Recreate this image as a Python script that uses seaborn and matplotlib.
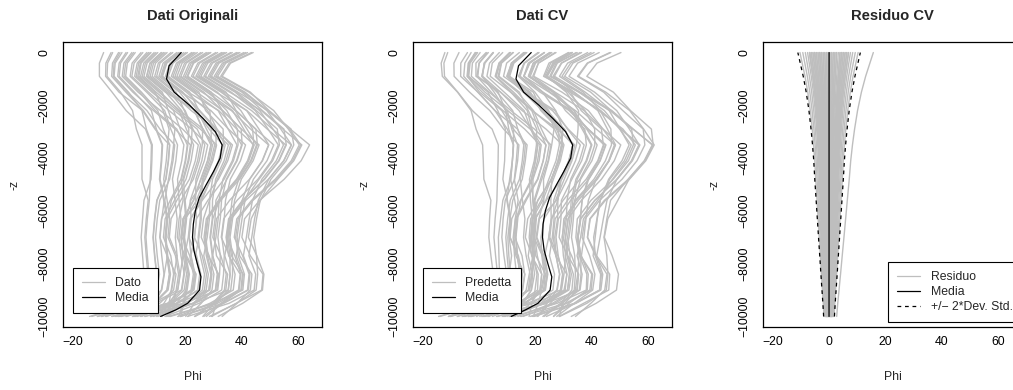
import numpy as np
import pandas as pd
import matplotlib
matplotlib.use("Agg")
import matplotlib.pyplot as plt
from matplotlib.lines import Line2D
import seaborn as sns

# Depth levels (m) at which every profile is sampled
depth = [0, -400, -900, -1500, -2200, -2900, -3500, -4100, -4800,
         -5600, -6300, -7000, -7700, -8400, -9000, -9500, -10000]

# Observed Phi profiles, one row per profile
phi_dati = [
    [-9.0, -10.5, -10.5, -6.0, -1.0, 5.85, 7.95, 7.8, 7.5, 7.2, 6.5, 6.0, 6.5, 7.1, 6.15, 2.0, -14.0],
    [-6.35, -8.2, -8.3, -3.55, 4.8, 9.2, 14.35, 13.9, 13.0, 9.85, 9.05, 8.5, 9.05, 9.75, 8.8, 4.5, -11.15],
    [-5.8, -7.6, -7.8, -3.0, 1.25, 2.6, 4.6, 4.6, 4.6, 6.8, 6.1, 5.6, 6.1, 6.7, 5.75, 1.6, -9.7],
    [-3.7, -5.85, -6.15, -1.1, 5.1, 9.5, 11.7, 11.4, 10.8, 12.3, 13.4, 12.8, 13.4, 14.3, 13.4, 8.8, -6.15],
    [-3.2, -5.3, -5.6, -0.5, 6.35, 10.95, 16.2, 15.6, 14.4, 10.9, 10.0, 9.4, 10.0, 10.8, 9.85, 3.4, -13.2],
    [-2.5, -4.9, -5.3, -0.2, 4.6, 6.15, 8.25, 8.1, 7.8, 5.3, 4.8, 4.3, 4.8, 5.3, 4.3, 2.3, -4.3],
    [-1.05, -3.5, -4.0, 1.35, 8.7, 16.35, 21.8, 20.9, 19.1, 15.0, 13.7, 13.1, 13.7, 14.7, 13.85, 9.1, -0.8],
    [-0.5, -3.0, -3.5, 1.9, 7.95, 9.7, 11.9, 11.6, 11.0, 12.5, 11.6, 11.0, 11.6, 12.4, 11.45, 7.0, -8.3],
    [1.6, -1.2, -1.8, 3.8, 9.3, 16.95, 19.45, 18.7, 17.2, 17.75, 18.4, 17.7, 18.4, 19.6, 18.75, 13.7, 4.5],
    [2.2, -0.6, -1.2, 4.4, 10.2, 12.15, 14.45, 14.0, 13.1, 9.95, 9.15, 8.6, 9.15, 9.85, 8.9, 4.6, -8.0],
    [1.0, -1.8, -2.4, 3.2, 11.15, 19.0, 24.55, 23.5, 21.4, 16.95, 13.5, 12.9, 13.5, 16.65, 15.8, 10.9, -3.35],
    [4.25, 1.1, 0.4, 6.25, 12.65, 14.8, 17.2, 16.6, 15.4, 16.3, 17.05, 16.4, 17.05, 16.0, 15.15, 12.4, 7.55],
    [4.9, 1.8, 1.0, 6.9, 14.2, 22.25, 27.9, 26.7, 24.3, 21.7, 22.0, 21.3, 22.0, 23.4, 22.65, 15.3, 1.75],
    [6.9, 3.45, 2.55, 8.7, 15.8, 18.15, 20.65, 19.9, 18.4, 14.6, 11.5, 10.9, 13.5, 14.4, 13.5, 8.9, -3.7],
    [7.5, 4.0, 3.1, 9.3, 12.05, 14.2, 13.65, 13.2, 12.3, 13.5, 14.4, 13.8, 16.45, 17.55, 16.7, 15.8, 11.65],
    [6.3, 2.9, 2.0, 8.1, 16.1, 24.15, 26.85, 25.8, 23.7, 23.6, 23.9, 23.2, 21.9, 23.2, 22.4, 15.2, 1.3],
    [7.8, 4.3, 3.5, 9.6, 17.05, 25.3, 31.05, 29.7, 27.0, 21.9, 20.2, 19.5, 20.2, 19.4, 18.55, 9.5, -9.8],
    [9.55, 5.8, 4.7, 11.15, 17.75, 20.3, 22.9, 22.0, 20.2, 16.1, 12.8, 12.2, 14.8, 15.8, 14.95, 14.2, 14.4],
    [10.2, 6.4, 5.3, 11.8, 13.9, 16.25, 15.8, 15.2, 14.0, 12.7, 13.6, 13.0, 13.6, 12.5, 11.6, 9.0, 1.45],
    [12.2, 8.1, 6.9, 13.6, 23.55, 29.35, 35.2, 33.7, 30.7, 29.6, 29.5, 28.7, 29.5, 29.1, 28.35, 22.7, 10.2],
    [12.8, 8.7, 7.5, 14.3, 19.9, 22.65, 25.35, 24.3, 22.2, 19.9, 20.4, 19.7, 20.4, 23.8, 23.05, 13.7, -4.9],
    [11.6, 7.5, 6.3, 13.0, 18.65, 21.2, 20.85, 20.1, 18.6, 19.15, 17.75, 17.1, 19.8, 21.0, 20.15, 19.1, 17.65],
    [13.5, 9.4, 8.2, 14.9, 22.05, 30.7, 36.65, 35.0, 31.7, 25.95, 21.9, 21.2, 23.95, 25.45, 24.7, 17.2, 4.0],
    [14.85, 10.4, 9.1, 16.05, 23.25, 26.2, 29.0, 27.8, 25.4, 22.8, 19.1, 18.4, 19.1, 18.15, 17.3, 8.4, -11.25],
    [15.5, 11.0, 9.8, 16.7, 19.6, 22.35, 22.1, 21.2, 19.4, 19.6, 20.1, 19.4, 20.1, 21.4, 20.6, 19.4, 18.3],
    [17.5, 12.75, 11.25, 18.5, 29.05, 35.25, 41.3, 39.5, 35.9, 34.2, 33.75, 32.9, 33.75, 33.5, 32.85, 24.9, 12.75],
    [18.2, 13.4, 11.9, 19.1, 24.3, 27.45, 30.35, 29.0, 26.3, 25.55, 25.6, 24.8, 23.55, 25.05, 24.3, 16.8, -1.1],
    [16.9, 12.1, 10.6, 17.9, 23.15, 26.1, 25.95, 24.9, 22.8, 18.35, 14.9, 14.3, 16.95, 18.05, 17.2, 14.3, 9.8],
    [17.9, 13.1, 11.6, 18.8, 25.1, 31.1, 34.1, 32.6, 29.6, 28.5, 26.4, 25.6, 28.4, 30.1, 29.4, 25.6, 20.85],
    [20.15, 15.1, 13.4, 20.95, 31.8, 38.2, 44.35, 42.4, 38.5, 32.1, 27.8, 27.0, 27.8, 29.4, 28.65, 17.0, -5.95],
    [20.7, 15.6, 13.9, 21.5, 24.8, 30.8, 30.85, 29.5, 26.8, 23.9, 20.0, 19.3, 20.0, 23.4, 22.65, 19.3, 13.5],
    [22.8, 17.4, 15.6, 23.4, 28.65, 29.15, 29.1, 27.9, 25.5, 22.9, 19.2, 18.5, 19.2, 20.4, 19.55, 14.5, 2.95],
    [23.4, 18.0, 16.3, 24.0, 33.25, 39.85, 46.1, 44.0, 39.8, 37.4, 36.7, 35.8, 36.7, 36.7, 36.05, 29.8, 23.4],
    [22.2, 16.8, 15.0, 22.8, 31.6, 35.15, 38.25, 36.6, 33.3, 31.9, 31.6, 30.8, 29.6, 31.3, 30.6, 22.8, 5.6],
    [24.2, 18.8, 17.0, 24.8, 27.15, 33.35, 33.5, 32.0, 29.0, 25.75, 21.7, 21.0, 19.7, 21.0, 20.2, 17.0, 13.2],
    [25.45, 19.7, 17.8, 25.85, 36.3, 43.1, 49.45, 47.2, 42.7, 35.65, 31.0, 30.2, 31.0, 34.95, 34.3, 30.2, 26.15],
    [26.1, 20.3, 18.4, 26.5, 32.95, 36.7, 39.9, 38.1, 34.5, 32.8, 32.35, 31.5, 32.35, 32.1, 31.45, 19.5, -2.75],
    [28.1, 22.05, 19.95, 28.3, 34.65, 38.4, 38.65, 37.0, 33.7, 27.95, 23.9, 23.2, 25.95, 27.45, 26.7, 23.2, 20.1],
    [28.8, 22.7, 20.6, 29.0, 37.85, 44.85, 51.3, 48.9, 44.1, 41.1, 40.05, 39.1, 38.0, 40.2, 39.65, 33.1, 27.4],
    [27.4, 21.4, 19.3, 27.6, 36.7, 40.65, 43.95, 42.0, 38.1, 31.7, 27.4, 26.6, 27.4, 29.0, 28.25, 20.6, 7.75],
    [29.0, 22.9, 20.8, 29.1, 33.15, 39.75, 40.1, 38.3, 34.7, 30.8, 30.5, 29.7, 32.55, 34.45, 33.8, 29.7, 23.3],
    [30.75, 24.4, 22.1, 30.75, 41.8, 49.0, 55.55, 53.0, 47.9, 40.2, 35.3, 34.4, 35.3, 39.4, 38.8, 30.4, 14.6],
    [31.4, 25.0, 22.7, 31.3, 37.65, 41.8, 45.2, 43.1, 38.9, 36.5, 35.8, 34.9, 35.8, 35.8, 35.15, 30.9, 29.55],
    [33.4, 26.7, 24.3, 33.2, 39.65, 43.8, 44.25, 42.3, 38.4, 32.0, 29.7, 28.9, 29.7, 31.4, 30.7, 22.9, 5.7],
    [34.0, 27.3, 24.9, 33.8, 43.45, 50.85, 57.5, 54.8, 49.4, 41.4, 36.3, 35.4, 36.3, 40.5, 39.95, 31.4, 18.3],
    [32.8, 26.1, 23.7, 32.6, 41.7, 46.05, 49.55, 47.3, 42.8, 40.1, 39.2, 38.3, 39.2, 43.55, 43.0, 38.3, 33.0],
    [34.6, 27.9, 25.5, 34.4, 37.95, 44.95, 45.5, 43.4, 39.2, 32.5, 28.0, 27.2, 28.0, 31.8, 31.15, 23.2, 8.7],
    [36.05, 29.0, 26.5, 35.65, 46.9, 54.5, 61.25, 58.4, 52.7, 46.5, 45.2, 44.2, 45.2, 45.6, 45.05, 38.2, 28.5],
    [36.6, 29.6, 27.1, 36.2, 44.75, 49.3, 52.9, 50.5, 45.7, 38.3, 33.55, 32.7, 35.6, 37.6, 36.95, 28.7, 17.25],
    [38.7, 31.35, 28.65, 38.1, 46.3, 51.05, 54.75, 52.2, 47.1, 43.75, 42.6, 41.6, 40.55, 42.85, 42.3, 33.6, 23.2],
    [39.3, 31.9, 29.2, 38.6, 49.35, 57.15, 64.0, 61.0, 55.0, 46.3, 40.95, 40.0, 43.0, 47.5, 47.0, 38.0, 29.2],
    [38.1, 30.8, 28.1, 37.6, 45.15, 52.55, 53.3, 50.9, 46.1, 40.9, 36.0, 35.1, 33.95, 35.85, 35.2, 23.1, 1.2],
    [41.35, 33.7, 30.8, 40.55, 48.85, 53.8, 57.6, 54.9, 49.5, 45.8, 44.5, 43.5, 42.5, 44.9, 44.35, 35.5, 20.75],
    [40.7, 33.1, 30.2, 40.0, 47.3, 54.9, 55.75, 53.2, 48.1, 40.4, 35.5, 34.6, 37.5, 39.6, 39.0, 32.6, 26.55],
    [42.0, 34.3, 31.4, 41.1, 49.15, 56.95, 60.85, 58.0, 52.3, 43.95, 38.7, 37.8, 38.7, 40.9, 40.35, 29.8, 14.0],
    [44.0, 36.0, 33.0, 43.0, 49.65, 57.45, 58.4, 55.7, 50.3, 46.6, 43.3, 42.3, 45.3, 47.8, 47.3, 40.3, 31.6],
    [43.4, 35.5, 32.5, 42.5, 51.3, 56.45, 60.35, 57.5, 51.8, 43.45, 38.2, 37.3, 40.25, 42.55, 42.0, 33.3, 18.2],
    [11.4, 7.4, 6.2, 12.9, 23.65, 28.4, 33.2, 31.7, 28.9, 25.4, 19.5, 18.8, 21.5, 22.8, 22.0, 14.8, -3.8],
    [19.4, 14.5, 12.9, 20.3, 27.85, 31.2, 36.0, 34.4, 31.3, 28.6, 28.5, 27.7, 26.5, 28.1, 27.35, 19.7, 2.15],
    [8.9, 5.2, 4.1, 10.6, 18.05, 26.3, 29.6, 28.4, 26.0, 25.1, 25.25, 24.5, 25.25, 26.75, 26.0, 20.5, 7.65],
]

# Cross-validation residuals (observed minus predicted), same rows and depths
residuo_cv = [
    [2.1, 1.94, 1.74, 1.54, 1.35, 1.21, 1.11, 1.03, 0.96, 0.87, 0.79, 0.71, 0.63, 0.55, 0.47, 0.41, 0.36],
    [-5.1, -4.71, -4.22, -3.73, -3.28, -2.94, -2.70, -2.50, -2.33, -2.11, -1.91, -1.72, -1.52, -1.33, -1.15, -1.00, -0.88],
    [6.3, 5.81, 5.21, 4.61, 4.06, 3.64, 3.33, 3.09, 2.88, 2.60, 2.36, 2.12, 1.88, 1.64, 1.42, 1.24, 1.09],
    [-0.9, -0.83, -0.74, -0.66, -0.58, -0.52, -0.48, -0.44, -0.41, -0.37, -0.34, -0.30, -0.27, -0.23, -0.20, -0.18, -0.16],
    [3.9, 3.60, 3.23, 2.85, 2.51, 2.25, 2.06, 1.91, 1.78, 1.61, 1.46, 1.31, 1.16, 1.01, 0.88, 0.77, 0.67],
    [-7.6, -7.01, -6.29, -5.56, -4.89, -4.39, -4.02, -3.72, -3.47, -3.14, -2.85, -2.56, -2.26, -1.98, -1.72, -1.50, -1.31],
    [0.3, 0.28, 0.25, 0.22, 0.19, 0.17, 0.16, 0.15, 0.14, 0.12, 0.11, 0.10, 0.09, 0.08, 0.07, 0.06, 0.05],
    [-3.3, -3.05, -2.73, -2.41, -2.13, -1.90, -1.75, -1.62, -1.51, -1.36, -1.24, -1.11, -0.98, -0.86, -0.75, -0.65, -0.57],
    [5.7, 5.26, 4.71, 4.17, 3.67, 3.29, 3.02, 2.79, 2.60, 2.35, 2.14, 1.92, 1.70, 1.48, 1.29, 1.12, 0.99],
    [-2.7, -2.49, -2.23, -1.97, -1.74, -1.56, -1.43, -1.32, -1.23, -1.12, -1.01, -0.91, -0.80, -0.70, -0.61, -0.53, -0.47],
    [1.5, 1.38, 1.24, 1.10, 0.97, 0.87, 0.79, 0.74, 0.69, 0.62, 0.56, 0.51, 0.45, 0.39, 0.34, 0.30, 0.26],
    [-6.9, -6.37, -5.71, -5.04, -4.44, -3.98, -3.65, -3.38, -3.15, -2.85, -2.59, -2.33, -2.06, -1.79, -1.56, -1.36, -1.19],
    [4.5, 4.15, 3.72, 3.29, 2.90, 2.60, 2.38, 2.21, 2.06, 1.86, 1.69, 1.52, 1.34, 1.17, 1.02, 0.89, 0.78],
    [-0.3, -0.28, -0.25, -0.22, -0.19, -0.17, -0.16, -0.15, -0.14, -0.12, -0.11, -0.10, -0.09, -0.08, -0.07, -0.06, -0.05],
    [8.4, 7.75, 6.95, 6.14, 5.41, 4.85, 4.44, 4.12, 3.84, 3.47, 3.15, 2.83, 2.50, 2.18, 1.90, 1.65, 1.45],
    [-4.5, -4.15, -3.72, -3.29, -2.90, -2.60, -2.38, -2.21, -2.06, -1.86, -1.69, -1.52, -1.34, -1.17, -1.02, -0.89, -0.78],
    [2.7, 2.49, 2.23, 1.97, 1.74, 1.56, 1.43, 1.32, 1.23, 1.12, 1.01, 0.91, 0.80, 0.70, 0.61, 0.53, 0.47],
    [-1.5, -1.38, -1.24, -1.10, -0.97, -0.87, -0.79, -0.74, -0.69, -0.62, -0.56, -0.51, -0.45, -0.39, -0.34, -0.30, -0.26],
    [6.9, 6.37, 5.71, 5.04, 4.44, 3.98, 3.65, 3.38, 3.15, 2.85, 2.59, 2.33, 2.06, 1.79, 1.56, 1.36, 1.19],
    [-3.9, -3.60, -3.23, -2.85, -2.51, -2.25, -2.06, -1.91, -1.78, -1.61, -1.46, -1.31, -1.16, -1.01, -0.88, -0.77, -0.67],
    [0.9, 0.83, 0.74, 0.66, 0.58, 0.52, 0.48, 0.44, 0.41, 0.37, 0.34, 0.30, 0.27, 0.23, 0.20, 0.18, 0.16],
    [-9.3, -8.58, -7.69, -6.80, -5.99, -5.37, -4.92, -4.56, -4.25, -3.84, -3.49, -3.13, -2.77, -2.42, -2.10, -1.83, -1.61],
    [5.1, 4.71, 4.22, 3.73, 3.28, 2.94, 2.70, 2.50, 2.33, 2.11, 1.91, 1.72, 1.52, 1.33, 1.15, 1.00, 0.88],
    [-2.1, -1.94, -1.74, -1.54, -1.35, -1.21, -1.11, -1.03, -0.96, -0.87, -0.79, -0.71, -0.63, -0.55, -0.47, -0.41, -0.36],
    [3.3, 3.05, 2.73, 2.41, 2.13, 1.90, 1.75, 1.62, 1.51, 1.36, 1.24, 1.11, 0.98, 0.86, 0.75, 0.65, 0.57],
    [-5.7, -5.26, -4.71, -4.17, -3.67, -3.29, -3.02, -2.79, -2.60, -2.35, -2.14, -1.92, -1.70, -1.48, -1.29, -1.12, -0.99],
    [15.7, 14.49, 12.98, 11.48, 10.11, 9.06, 8.31, 7.69, 7.17, 6.48, 5.89, 5.29, 4.68, 4.08, 3.55, 3.09, 2.72],
    [-6.3, -5.81, -5.21, -4.61, -4.06, -3.64, -3.33, -3.09, -2.88, -2.60, -2.36, -2.12, -1.88, -1.64, -1.42, -1.24, -1.09],
    [1.5, 1.38, 1.24, 1.10, 0.97, 0.87, 0.79, 0.74, 0.69, 0.62, 0.56, 0.51, 0.45, 0.39, 0.34, 0.30, 0.26],
    [-0.9, -0.83, -0.74, -0.66, -0.58, -0.52, -0.48, -0.44, -0.41, -0.37, -0.34, -0.30, -0.27, -0.23, -0.20, -0.18, -0.16],
    [4.5, 4.15, 3.72, 3.29, 2.90, 2.60, 2.38, 2.21, 2.06, 1.86, 1.69, 1.52, 1.34, 1.17, 1.02, 0.89, 0.78],
    [-10.3, -9.51, -8.52, -7.53, -6.63, -5.94, -5.45, -5.05, -4.71, -4.25, -3.86, -3.47, -3.07, -2.68, -2.33, -2.03, -1.78],
    [2.1, 1.94, 1.74, 1.54, 1.35, 1.21, 1.11, 1.03, 0.96, 0.87, 0.79, 0.71, 0.63, 0.55, 0.47, 0.41, 0.36],
    [-3.3, -3.05, -2.73, -2.41, -2.13, -1.90, -1.75, -1.62, -1.51, -1.36, -1.24, -1.11, -0.98, -0.86, -0.75, -0.65, -0.57],
    [7.6, 7.01, 6.29, 5.56, 4.89, 4.39, 4.02, 3.72, 3.47, 3.14, 2.85, 2.56, 2.26, 1.98, 1.72, 1.50, 1.31],
    [-1.5, -1.38, -1.24, -1.10, -0.97, -0.87, -0.79, -0.74, -0.69, -0.62, -0.56, -0.51, -0.45, -0.39, -0.34, -0.30, -0.26],
    [0.3, 0.28, 0.25, 0.22, 0.19, 0.17, 0.16, 0.15, 0.14, 0.12, 0.11, 0.10, 0.09, 0.08, 0.07, 0.06, 0.05],
    [-4.5, -4.15, -3.72, -3.29, -2.90, -2.60, -2.38, -2.21, -2.06, -1.86, -1.69, -1.52, -1.34, -1.17, -1.02, -0.89, -0.78],
    [5.7, 5.26, 4.71, 4.17, 3.67, 3.29, 3.02, 2.79, 2.60, 2.35, 2.14, 1.92, 1.70, 1.48, 1.29, 1.12, 0.99],
    [-8.4, -7.75, -6.95, -6.14, -5.41, -4.85, -4.44, -4.12, -3.84, -3.47, -3.15, -2.83, -2.50, -2.18, -1.90, -1.65, -1.45],
    [3.9, 3.60, 3.23, 2.85, 2.51, 2.25, 2.06, 1.91, 1.78, 1.61, 1.46, 1.31, 1.16, 1.01, 0.88, 0.77, 0.67],
    [-2.1, -1.94, -1.74, -1.54, -1.35, -1.21, -1.11, -1.03, -0.96, -0.87, -0.79, -0.71, -0.63, -0.55, -0.47, -0.41, -0.36],
    [6.3, 5.81, 5.21, 4.61, 4.06, 3.64, 3.33, 3.09, 2.88, 2.60, 2.36, 2.12, 1.88, 1.64, 1.42, 1.24, 1.09],
    [-5.1, -4.71, -4.22, -3.73, -3.28, -2.94, -2.70, -2.50, -2.33, -2.11, -1.91, -1.72, -1.52, -1.33, -1.15, -1.00, -0.88],
    [0.9, 0.83, 0.74, 0.66, 0.58, 0.52, 0.48, 0.44, 0.41, 0.37, 0.34, 0.30, 0.27, 0.23, 0.20, 0.18, 0.16],
    [-6.9, -6.37, -5.71, -5.04, -4.44, -3.98, -3.65, -3.38, -3.15, -2.85, -2.59, -2.33, -2.06, -1.79, -1.56, -1.36, -1.19],
    [2.7, 2.49, 2.23, 1.97, 1.74, 1.56, 1.43, 1.32, 1.23, 1.12, 1.01, 0.91, 0.80, 0.70, 0.61, 0.53, 0.47],
    [-0.3, -0.28, -0.25, -0.22, -0.19, -0.17, -0.16, -0.15, -0.14, -0.12, -0.11, -0.10, -0.09, -0.08, -0.07, -0.06, -0.05],
    [9.3, 8.58, 7.69, 6.80, 5.99, 5.37, 4.92, 4.56, 4.25, 3.84, 3.49, 3.13, 2.77, 2.42, 2.10, 1.83, 1.61],
    [-3.9, -3.60, -3.23, -2.85, -2.51, -2.25, -2.06, -1.91, -1.78, -1.61, -1.46, -1.31, -1.16, -1.01, -0.88, -0.77, -0.67],
    [4.5, 4.15, 3.72, 3.29, 2.90, 2.60, 2.38, 2.21, 2.06, 1.86, 1.69, 1.52, 1.34, 1.17, 1.02, 0.89, 0.78],
    [-2.7, -2.49, -2.23, -1.97, -1.74, -1.56, -1.43, -1.32, -1.23, -1.12, -1.01, -0.91, -0.80, -0.70, -0.61, -0.53, -0.47],
    [6.9, 6.37, 5.71, 5.04, 4.44, 3.98, 3.65, 3.38, 3.15, 2.85, 2.59, 2.33, 2.06, 1.79, 1.56, 1.36, 1.19],
    [-5.7, -5.26, -4.71, -4.17, -3.67, -3.29, -3.02, -2.79, -2.60, -2.35, -2.14, -1.92, -1.70, -1.48, -1.29, -1.12, -0.99],
    [10.3, 9.51, 8.52, 7.53, 6.63, 5.94, 5.45, 5.05, 4.71, 4.25, 3.86, 3.47, 3.07, 2.68, 2.33, 2.03, 1.78],
    [-6.3, -5.81, -5.21, -4.61, -4.06, -3.64, -3.33, -3.09, -2.88, -2.60, -2.36, -2.12, -1.88, -1.64, -1.42, -1.24, -1.09],
    [-3.3, -3.05, -2.73, -2.41, -2.13, -1.90, -1.75, -1.62, -1.51, -1.36, -1.24, -1.11, -0.98, -0.86, -0.75, -0.65, -0.57],
    [-5.1, -4.71, -4.22, -3.73, -3.28, -2.94, -2.70, -2.50, -2.33, -2.11, -1.91, -1.72, -1.52, -1.33, -1.15, -1.00, -0.88],
    [5.1, 4.71, 4.22, 3.73, 3.28, 2.94, 2.70, 2.50, 2.33, 2.11, 1.91, 1.72, 1.52, 1.33, 1.15, 1.00, 0.88],
    [-6.9, -6.37, -5.71, -5.04, -4.44, -3.98, -3.65, -3.38, -3.15, -2.85, -2.59, -2.33, -2.06, -1.79, -1.56, -1.36, -1.19],
]

# Mean profiles on a finer depth grid
media_z = [0, -500, -1000, -1500, -2000, -2500, -3000, -3500, -4000, -4500, -5000,
           -5500, -6000, -6500, -7000, -7500, -8000, -8500, -9000, -9500, -9750, -10000]
media_dati = [18.5, 14.2, 13.3, 16.0, 21.5, 26.3, 30.6, 33.0, 32.3, 30.0, 27.4,
              24.9, 23.5, 22.8, 22.5, 23.0, 24.2, 25.5, 25.0, 20.8, 16.6, 11.2]
media_cv = [18.5, 14.0, 13.1, 15.8, 21.3, 26.2, 30.7, 33.2, 32.5, 30.1, 27.5,
            25.0, 23.5, 22.7, 22.5, 23.1, 24.4, 25.8, 25.2, 20.9, 16.5, 11.4]

titles = ["Dati Originali", "Dati CV", "Residuo CV"]
x_ticks = [-20, 0, 20, 40, 60]
y_ticks = [0, -2000, -4000, -6000, -8000, -10000]

GREY = "#BEBEBE"
CURVE_LW = 1.0

sns.set_style("white")
plt.rcParams["font.family"] = ["Liberation Sans", "DejaVu Sans"]
plt.rcParams["axes.unicode_minus"] = True

obs = np.array(phi_dati)
res = np.array(residuo_cv)
pred = obs - res
res_mean = res.mean(axis=0)
res_sd = res.std(axis=0, ddof=1)


def long_table(arr):
    n, m = arr.shape
    return pd.DataFrame({
        "curve": np.repeat(np.arange(n), m),
        "z": np.tile(depth, n),
        "phi": arr.ravel(),
    })


W, H = 1013, 390
fig = plt.figure(figsize=(W / 100, H / 100), dpi=100)
lefts = [63, 413, 763]
axes = [fig.add_axes([l / W, 63 / H, 259 / W, 285 / H]) for l in lefts]

TICK_FS = 8.8
for ax, title in zip(axes, titles):
    ax.set_xlim(-23.4, 68.4)
    ax.set_ylim(-10400, 400)
    ax.set_xticks(x_ticks)
    ax.set_yticks(y_ticks)
    ax.tick_params(axis="both", direction="out", length=4.3, width=0.75,
                   color="black", labelsize=TICK_FS, labelcolor="black")
    ax.tick_params(axis="x", pad=2.4)
    ax.tick_params(axis="y", pad=5.0)
    ax.set_yticklabels([f"{v:d}".replace("-", "\u2212") for v in y_ticks],
                       rotation=90, va="center")
    ax.set_xticklabels([f"{v:d}".replace("-", "\u2212") for v in x_ticks])
    for sp in ax.spines.values():
        sp.set_visible(True)
        sp.set_color("black")
        sp.set_linewidth(0.9)
    ax.set_title(title, fontsize=10.6, fontweight="bold", pad=15.5)

# Panel 1: observed profiles with their mean
sns.lineplot(data=long_table(obs), x="phi", y="z", units="curve", estimator=None,
             orient="y", color=GREY, lw=CURVE_LW, ax=axes[0], legend=False)
sns.lineplot(x=media_dati, y=media_z, orient="y", estimator=None, color="black",
             lw=0.9, ax=axes[0])

# Panel 2: cross-validated predictions with their mean
sns.lineplot(data=long_table(pred), x="phi", y="z", units="curve", estimator=None,
             orient="y", color=GREY, lw=CURVE_LW, ax=axes[1], legend=False)
sns.lineplot(x=media_cv, y=media_z, orient="y", estimator=None, color="black",
             lw=0.9, ax=axes[1])

# Panel 3: residuals, their mean and the +/- 2 sd band
sns.lineplot(data=long_table(res), x="phi", y="z", units="curve", estimator=None,
             orient="y", color=GREY, lw=CURVE_LW, ax=axes[2], legend=False)
sns.lineplot(x=res_mean, y=depth, orient="y", estimator=None, color="black",
             lw=0.9, ax=axes[2])
for band in (res_mean - 2 * res_sd, res_mean + 2 * res_sd):
    sns.lineplot(x=band, y=depth, orient="y", estimator=None, color="black",
                 lw=0.9, linestyle=(0, (3, 3)), ax=axes[2])

for ax in axes:
    ax.set_xlabel("Phi", fontsize=TICK_FS)
    ax.set_ylabel("-z", fontsize=TICK_FS)
    ax.xaxis.set_label_coords(0.5, -0.155)
    ax.yaxis.set_label_coords(-0.163, 0.5)


def add_legend(ax, labels, styles, loc, anchor):
    handles = [Line2D([], [], color=c, lw=0.9, linestyle=ls) for c, ls in styles]
    leg = ax.legend(handles, labels, loc=loc, bbox_to_anchor=anchor, borderaxespad=0,
                    frameon=True, fancybox=False, edgecolor="black", framealpha=1,
                    fontsize=TICK_FS, handlelength=1.9, handletextpad=0.85,
                    borderpad=0.75, labelspacing=0.25)
    leg.get_frame().set_linewidth(0.8)
    return leg


add_legend(axes[0], ["Dato", "Media"], [(GREY, "-"), ("black", "-")],
           "lower left", (0.0375, 0.048))
add_legend(axes[1], ["Predetta", "Media"], [(GREY, "-"), ("black", "-")],
           "lower left", (0.0375, 0.048))
add_legend(axes[2], ["Residuo", "Media", "+/\u2212 2*Dev. Std."],
           [(GREY, "-"), ("black", "-"), ("black", (0, (3, 3)))],
           "lower right", (1.0, 0.0165))

fig.savefig("out.png", dpi=100)
